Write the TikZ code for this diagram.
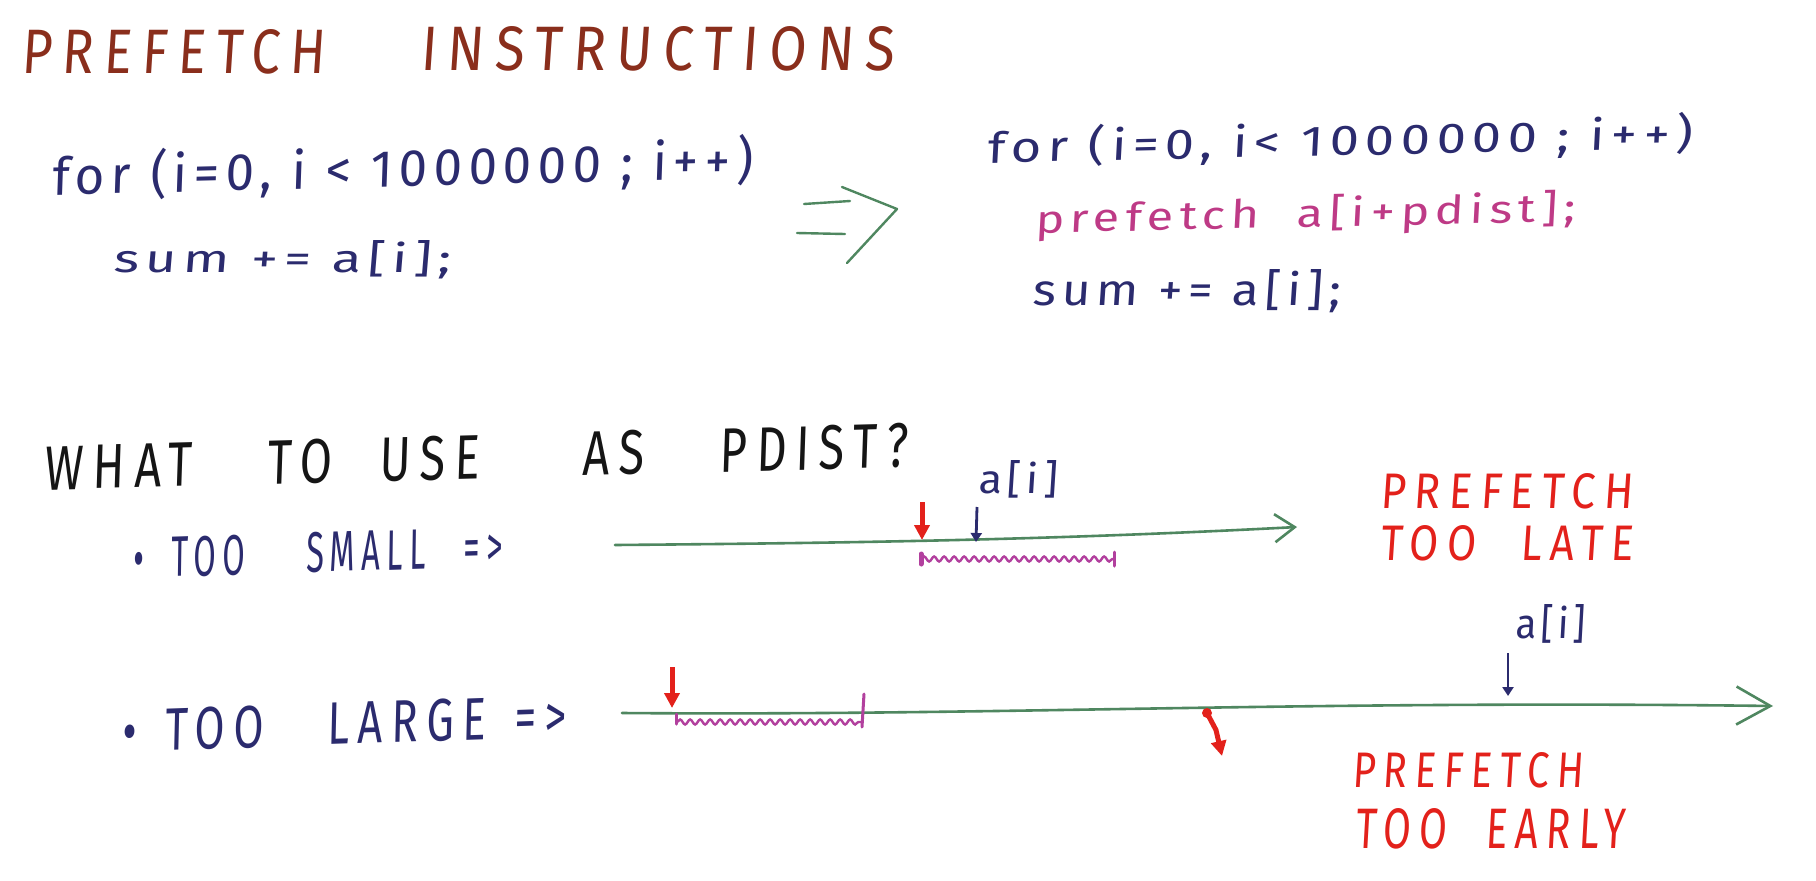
\documentclass[tikz,border=0pt]{standalone}
\usepackage{fontspec}
\usepackage{graphicx}
\usetikzlibrary{arrows.meta,decorations.pathmorphing}
\newfontfamily\handcaps[LetterSpace=20,FakeSlant=0.08]{Fira Sans}
\newfontfamily\handcode[LetterSpace=12,FakeSlant=0.06]{Fira Sans}
\definecolor{titlebrown}{HTML}{8A2E1C}
\definecolor{inknavy}{HTML}{2B2B6E}
\definecolor{inkblack}{HTML}{151515}
\definecolor{inkred}{HTML}{E3211B}
\definecolor{inkgreen}{HTML}{4F8760}
\definecolor{inkmagenta}{HTML}{BE3A86}
\definecolor{wavemagenta}{HTML}{B2409E}
\newcommand\fitto[3]{\resizebox{#1pt}{#2pt}{#3}}
\tikzset{
  txt/.style={anchor=base west, inner sep=0pt, outer sep=0pt},
  capstxt/.style={txt, font=\handcaps\fontsize{40}{48}\selectfont},
  codetxt/.style={txt, font=\handcode\fontsize{40}{48}\selectfont},
  timeline/.style={draw=inkgreen, line width=2.6pt, line cap=round, line join=round},
  redptr/.style={draw=inkred, line width=5pt, -{Triangle[length=15pt,width=15pt]}},
  navyptr/.style={draw=inknavy, line width=2.8pt, -{Triangle[length=9pt,width=11pt]}},
  wave/.style={draw=wavemagenta, line width=2.4pt, decorate,
    decoration={snake, amplitude=2.5pt, segment length=10pt}},
  tick/.style={draw=wavemagenta, line width=3pt, line cap=round},
  greenmark/.style={draw=inkgreen, line width=2.4pt, line cap=round, line join=round}
}
\begin{document}
\begin{tikzpicture}[x=1pt,y=-1pt]
\fill[white] (0,0) rectangle (1816,881);
\useasboundingbox (0,0) rectangle (1816,881);

% title
\node[capstxt, text=titlebrown] (title1) at (21,73) {\fitto{304}{44}{PREFETCH}};
\node[capstxt, text=titlebrown] (title2) at (420,70) {\fitto{474}{44}{INSTRUCTIONS}};

% left code
\node[codetxt, text=inknavy, rotate=1.4] (lcode1) at (52,195) {\fitto{701}{44}{for (i=0, i < 1000000 ; i++)}};
\node[codetxt, text=inknavy] (lcode2) at (113,272) {\fitto{337}{32}{sum += a[i];}};

% green transform mark
\draw[greenmark] (804,204) -- (850,201);
\draw[greenmark] (797,233) -- (845,234);
\draw[greenmark] (842,187) -- (897,209) -- (847,263);

% right code
\node[codetxt, text=inknavy, rotate=1.2] (rcode1) at (987,163) {\fitto{706}{36}{for (i=0, i< 1000000 ; i++)}};
\node[codetxt, text=inkmagenta, rotate=1.2] (rcode2) at (1035,233) {\fitto{540}{32}{prefetch\ \ a[i+pdist];}};
\node[codetxt, text=inknavy] (rcode3) at (1032,305) {\fitto{308}{36}{sum += a[i];}};

% question
\node[capstxt, text=inkblack, rotate=1.5] (question) at (45,490)
  {\fitto{863}{44}{WHAT \hspace{1.15em}TO \hspace{0.55em}USE \hspace{1.75em}AS \hspace{1.15em}PDIST?}};

% too small
\node[capstxt, text=inknavy, rotate=1.8] (small) at (133,578)
  {\fitto{370}{40}{• \hspace{0.4em}TOO \hspace{1.4em}SMALL \hspace{0.7em}=>}};
\coordinate (t1s) at (615,545);
\coordinate (t1e) at (1297,527);
\draw[timeline, -{Straight Barb[length=20pt,width=28pt]}] (t1s) .. controls (850,543) and (1050,540) .. (t1e);
\coordinate (r1s) at (922,502);
\coordinate (r1e) at (922,540);
\draw[redptr] (r1s) -- (r1e);
\node[codetxt, text=inknavy] (ai1) at (978,493) {\fitto{79}{33}{a[i]}};
\coordinate (n1s) at (977,507);
\coordinate (n1e) at (976,542);
\draw[navyptr] (n1s) -- (n1e);
\coordinate (w1s) at (921,559);
\coordinate (w1e) at (1113,559);
\draw[tick, line width=5pt] (921,554) -- (921,564);
\draw[wave] (w1s) -- (w1e);
\draw[tick] (1114,552) -- (1114,566);
\node[capstxt, text=inkred] (late1) at (1380,508) {\fitto{253}{35}{PREFETCH}};
\node[capstxt, text=inkred] (late2) at (1380,560) {\fitto{253}{35}{TOO \hspace{0.6em}LATE}};

% too large
\node[capstxt, text=inknavy, rotate=2] (large) at (122,752)
  {\fitto{445}{42}{• \hspace{0.2em}TOO \hspace{1.0em}LARGE \hspace{0.2em}=>}};
\coordinate (t2s) at (622,713);
\coordinate (t2e) at (1773,706);
\draw[timeline, -{Straight Barb[length=34pt,width=38pt]}] (t2s) .. controls (1000,716) and (1300,700) .. (t2e);
\coordinate (r2s) at (672,667);
\coordinate (r2e) at (672,708);
\draw[redptr] (r2s) -- (r2e);
\coordinate (w2s) at (677,722);
\coordinate (w2e) at (861,722);
\draw[tick] (676,714) -- (676,724);
\draw[wave] (w2s) -- (w2e);
\draw[tick] (862,727) -- (864,694);
\coordinate (h2s) at (1207,713);
\coordinate (h2m) at (1216,730);
\coordinate (h2e) at (1222,756);
\fill[inkred] (h2s) circle (5pt);
\draw[redptr, -{Triangle[length=15pt,width=15pt]}] (h2s) -- (h2m) -- (h2e);
\node[codetxt, text=inknavy] (ai2) at (1515,638) {\fitto{70}{34}{a[i]}};
\coordinate (n2s) at (1508,653);
\coordinate (n2e) at (1508,696);
\draw[navyptr] (n2s) -- (n2e);
\node[capstxt, text=inkred] (early1) at (1352,787) {\fitto{231}{35}{PREFETCH}};
\node[capstxt, text=inkred] (early2) at (1355,848) {\fitto{270}{40}{TOO \hspace{0.5em}EARLY}};
\end{tikzpicture}
\end{document}
